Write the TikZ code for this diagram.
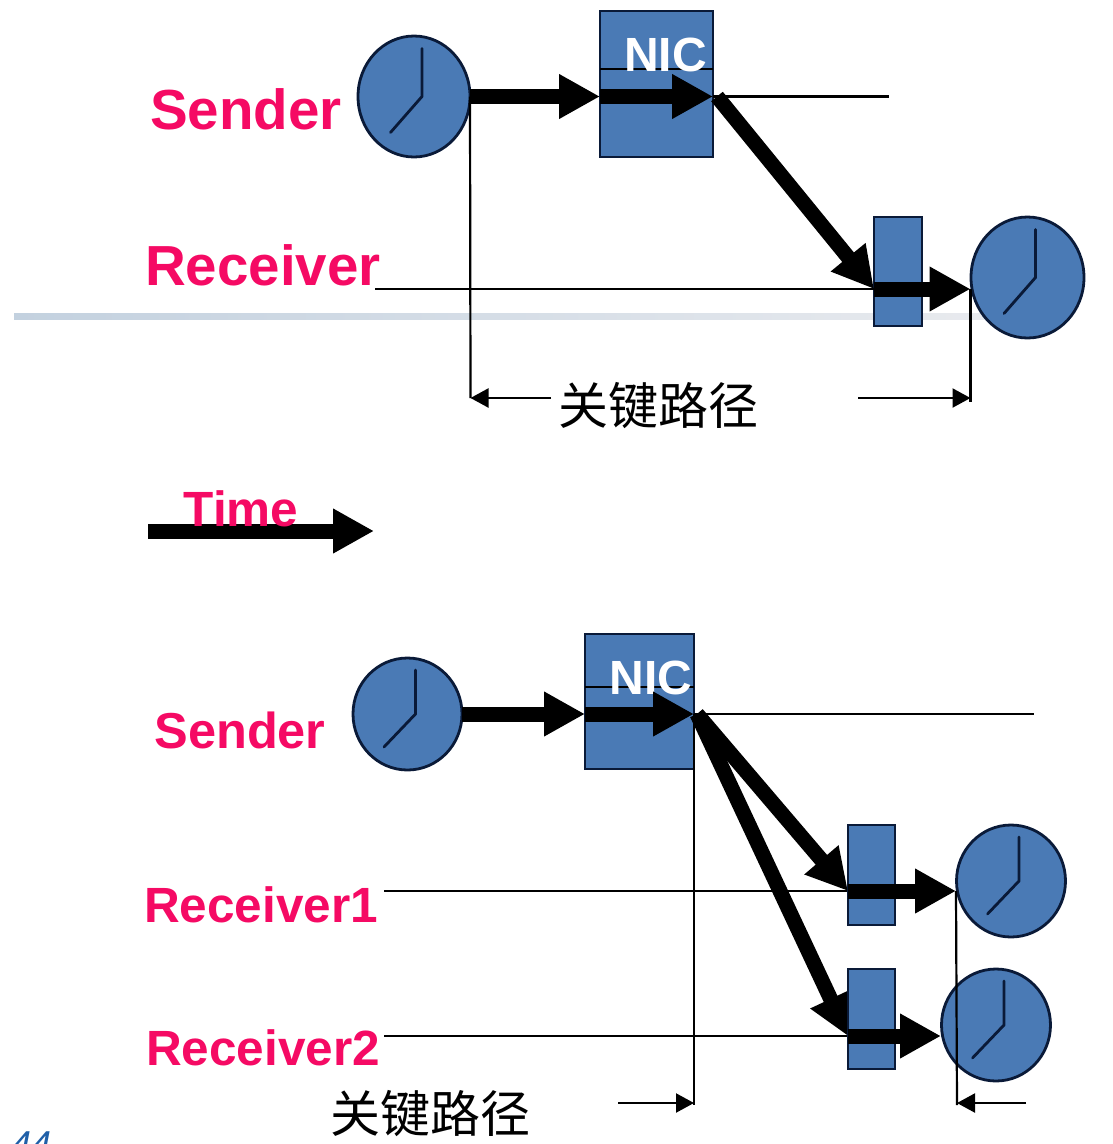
\documentclass[tikz,border=0pt]{standalone}
\usepackage{fontspec}
\setmainfont{Liberation Sans}
\newfontfamily\cjk{Noto Sans CJK SC}
\usetikzlibrary{positioning,arrows.meta,shapes.geometric}
\definecolor{nicblue}{HTML}{4A7AB5}
\definecolor{inkblue}{HTML}{0A1A38}
\definecolor{labpink}{HTML}{F50A64}
\definecolor{pagenum}{HTML}{1F5FA8}
\definecolor{barleft}{HTML}{C3D1DF}
\definecolor{barright}{HTML}{E8EAEE}
\tikzset{
  clock/.style={ellipse, draw=inkblue, fill=nicblue, line width=2.8pt, inner sep=0pt, outer sep=0pt},
  nicbox/.style={rectangle, draw=inkblue, fill=nicblue, line width=2.8pt, inner sep=0pt, outer sep=0pt},
  rxbox/.style={rectangle, draw=inkblue, fill=nicblue, line width=2.8pt, inner sep=0pt, outer sep=0pt, minimum width=47pt, minimum height=100pt},
  hand/.style={draw=inkblue, line width=2.8pt, line cap=round},
  flow/.style={-{Triangle[length=41pt,width=42pt]}, line width=15pt, black},
  wire/.style={line width=2.2pt, black},
  span/.style={-{Triangle[length=18pt,width=19pt]}, line width=2.2pt, black},
  biglab/.style={anchor=base, inner sep=0pt, text=labpink, font=\fontsize{56.5}{60}\selectfont\bfseries},
  midlab/.style={anchor=base, inner sep=0pt, text=labpink, font=\fontsize{49.5}{54}\selectfont\bfseries},
  niclab/.style={anchor=base, inner sep=0pt, text=white, font=\fontsize{48}{52}\selectfont\bfseries},
  cjklab/.style={inner sep=0pt, font=\fontsize{50}{54}\selectfont\cjk},
}
% clock face: name, x, y, width, height, hand length
\newcommand{\clockface}[6]{
  \node[clock, minimum width=#4pt, minimum height=#5pt] (#1) at (#2,#3) {};
  \draw[hand] ([xshift=8pt,yshift=#6pt]#1.center) -- ([xshift=8pt]#1.center) -- ([xshift=-23.5pt,yshift=-#6pt*0.75]#1.center);
}
\begin{document}
\begin{tikzpicture}[x=1pt,y=-1pt]
  \useasboundingbox (0,0) rectangle (1112,1144);

  % divider
  \fill[left color=barleft, right color=barright] (14,313) rectangle (985,319);

  % upper picture
  \clockface{clockS}{414}{96.5}{112}{121}{48}
  \node[nicbox, minimum width=113pt, minimum height=146pt] (nicS) at (656.5,84) {};
  \node[rxbox, minimum width=48pt, minimum height=109pt] (boxR) at (898,271.5) {};
  \clockface{clockR}{1027.5}{277.5}{113}{121}{48}

  \coordinate (nicSin) at (nicS.west |- clockS.east);
  \coordinate (nicSout) at (nicS.east |- clockS.east);
  \coordinate (nicSmidL) at (600,69);
  \coordinate (nicSmidR) at (713,69);
  \coordinate (sendEnd) at (889,96.5);
  \coordinate (recvStart) at (375,289);
  \coordinate (boxRin) at (boxR.west |- recvStart);
  \coordinate (clockRin) at (970.5,289);
  \coordinate (spanSL) at (470.5,398);
  \coordinate (spanSR) at (970.5,398);
  \coordinate (spanSLtxt) at (551,398);
  \coordinate (spanSRtxt) at (858,398);

  \draw[wire] (nicSmidL) -- (nicSmidR);
  \node[niclab] (nicSlab) at (665.5,71) {NIC};
  \draw[wire] (nicSout) -- (sendEnd);
  \draw[wire] (recvStart) -- (boxRin);
  \draw[wire] (clockS.east) -- (spanSL);
  \draw[wire] (clockRin) -- ([yshift=-4pt]spanSR);
  \draw[flow] (clockS.east) -- (nicSin);
  \draw[flow] (nicSin) -- (nicSout);
  \draw[flow] ([xshift=4pt]nicSout) -- (boxRin);
  \draw[flow] (boxRin) -- (clockRin);
  \draw[span] (spanSLtxt) -- (spanSL);
  \draw[span] (spanSRtxt) -- (spanSR);

  \node[biglab] (labS) at (246,129) {Sender};
  \node[biglab] (labR) at (263,285) {Receiver};
  \node[cjklab] (pathA) at (658,406) {关键路径};

  % time arrow
  \coordinate (timeL) at (148,531);
  \coordinate (timeR) at (374,531);
  \draw[flow] (timeL) -- (timeR);
  \node[midlab] (labT) at (241,526) {Time};

  % lower picture
  \clockface{clockB}{407.5}{714}{109}{112}{44}
  \node[nicbox, minimum width=109pt, minimum height=135pt] (nicB) at (639.5,701.5) {};
  \clockface{clockA}{1011}{881}{109}{112}{44}
  \clockface{clockC}{996}{1025}{109}{112}{44}

  \coordinate (nicBin) at (nicB.west |- clockB.east);
  \coordinate (nicBout) at (nicB.east |- clockB.east);
  \coordinate (nicBmidL) at (585,687);
  \coordinate (nicBmidR) at (694,687);
  \coordinate (sendEndB) at (1034,714);
  \coordinate (recvA) at (384,891);
  \coordinate (recvC) at (384,1036);
  \coordinate (boxAin) at (848,891);
  \coordinate (boxCin) at (848,1036);
  \coordinate (clockAin) at (956,891);
  \coordinate (clockCin) at (941,1036);
  \coordinate (spanBL) at (694,1103);
  \coordinate (spanBR) at (957,1103);
  \coordinate (spanBLtxt) at (618,1103);
  \coordinate (spanBRtxt) at (1026,1103);

  \draw[wire] (nicBmidL) -- (nicBmidR);
  \node[niclab] (nicBlab) at (651,694) {NIC};
  \draw[wire] (nicBout) -- (sendEndB);
  \draw[wire] (recvA) -- (boxAin);
  \draw[wire] (recvC) -- (boxCin);
  \draw[wire] (nicBout) -- ([yshift=-2pt]spanBL);
  \draw[wire] (clockAin) -- ([yshift=-2pt]spanBR);
  \draw[flow] (clockB.east) -- (nicBin);
  \draw[flow] (nicBin) -- (nicBout);
  \draw[flow] ([xshift=3pt]nicBout) -- (boxAin);
  \draw[flow] ([xshift=3pt]nicBout) -- (boxCin);

  \node[rxbox] (boxA) at (871.5,875) {};
  \node[rxbox] (boxC) [below=44pt of boxA] {};

  \draw[flow] (boxAin) -- (clockAin);
  \draw[flow] (boxCin) -- (clockCin);
  \draw[span] (spanBLtxt) -- (spanBL);
  \draw[span] (spanBRtxt) -- (spanBR);

  \node[midlab, font=\fontsize{50.5}{54}\selectfont\bfseries] (labB) at (240,748) {Sender};
  \node[midlab] (labA) at (261,922) {Receiver1};
  \node[midlab] (labC) at (263,1065) {Receiver2};
  \node[cjklab] (pathB) at (430,1114) {关键路径};

  \node[anchor=base west, inner sep=0pt, text=pagenum, font=\fontsize{36}{40}\selectfont\itshape] (pageno) at (11,1156) {44};
\end{tikzpicture}
\end{document}
